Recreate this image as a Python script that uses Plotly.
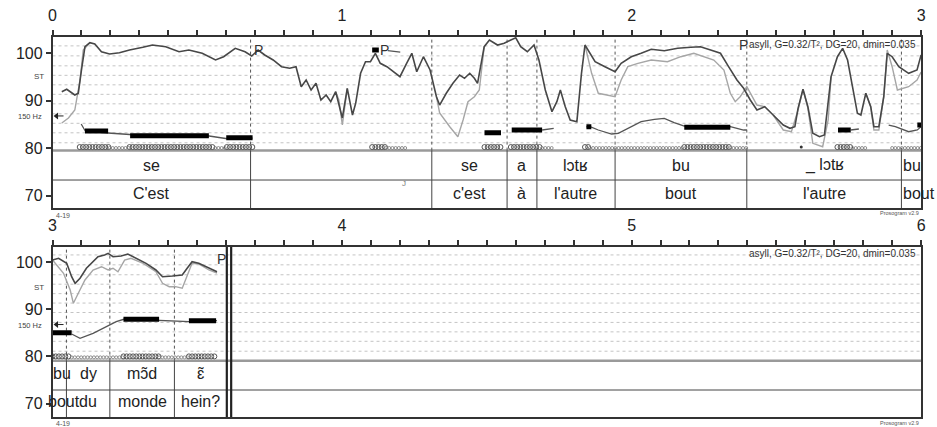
import numpy as np
import plotly.graph_objects as go

FONT = "Liberation Sans, Arial, sans-serif"

# ---------------- panel 1 (0-3 s) ----------------
# main F0 contour, semitones re 1 Hz
f0_t = [0.032, 0.049, 0.077, 0.089, 0.100, 0.112, 0.129, 0.146, 0.169, 0.197, 0.231, 0.266, 0.312, 0.345,
        0.391, 0.437, 0.471, 0.517, 0.563, 0.591, 0.631, 0.665, 0.688, 0.710, 0.733, 0.762, 0.791, 0.819,
        0.841, 0.859, 0.876, 0.893, 0.910, 0.927, 0.945, 0.961, 0.978, 0.995, 1.001, 1.018, 1.036, 1.047,
        1.064, 1.081, 1.098, 1.115, 1.132, 1.155, 1.178, 1.200, 1.223, 1.241, 1.258, 1.281, 1.304, 1.326,
        1.337, 1.360, 1.383, 1.406, 1.423, 1.441, 1.457, 1.468, 1.491, 1.509, 1.537, 1.560, 1.583, 1.600,
        1.617, 1.640, 1.663, 1.680, 1.702, 1.725, 1.742, 1.754, 1.771, 1.788, 1.811, 1.827, 1.839, 1.856,
        1.874, 1.908, 1.943, 1.964, 1.999, 2.033, 2.068, 2.113, 2.159, 2.205, 2.238, 2.273, 2.307, 2.335,
        2.364, 2.387, 2.410, 2.433, 2.460, 2.489, 2.524, 2.547, 2.564, 2.575, 2.592, 2.609, 2.626, 2.649,
        2.666, 2.689, 2.711, 2.729, 2.746, 2.763, 2.780, 2.792, 2.809, 2.826, 2.837, 2.854, 2.871, 2.883,
        2.900, 2.923, 2.957, 2.986, 3.0]
f0_st = [91.85, 92.36, 91.16, 91.52, 96.42, 101.33, 102.17, 101.89, 100.27, 99.79, 100.06, 100.63, 101.2,
         101.68, 101.33, 100.27, 100.63, 99.94, 98.53, 99.22, 100.99, 100.27, 99.37, 100.63, 99.58, 98.53,
         97.12, 96.78, 97.12, 92.91, 94.32, 92.21, 93.62, 90.11, 91.16, 89.75, 91.85, 88.0, 86.32, 92.57,
         86.95, 89.41, 95.73, 98.17, 98.17, 99.94, 97.83, 97.12, 96.06, 95.01, 97.83, 99.94, 96.06, 99.22,
         96.42, 90.8, 89.05, 91.52, 93.62, 95.37, 94.67, 95.73, 94.67, 93.62, 101.33, 102.74, 101.68, 102.04,
         102.74, 103.2, 101.33, 100.27, 101.68, 98.53, 92.21, 87.64, 89.75, 92.21, 88.69, 85.89, 85.54, 95.73,
         101.68, 99.94, 98.17, 97.12, 96.06, 97.83, 99.22, 99.94, 100.78, 100.48, 100.99, 101.2, 101.33,
         100.63, 99.94, 97.12, 94.32, 92.57, 90.11, 88.0, 88.69, 86.95, 84.84, 84.15, 84.48, 88.36, 92.36,
         88.69, 83.09, 82.38, 82.74, 95.01, 99.22, 100.99, 98.53, 92.91, 87.31, 86.95, 91.52, 88.69, 84.48,
         84.48, 90.8, 99.94, 99.22, 97.12, 95.73, 96.42, 99.6]

# secondary contour where it departs from the main one (None = break)
f0b_t = [0.032, 0.055, 0.077, 0.095, 0.106, 0.129, None,
         0.978, 0.989, 1.001, 1.018, None,
         1.326, 1.337, 1.372, 1.400, 1.418, 1.435, 1.457, 1.474, 1.491, None,
         1.839, 1.862, 1.885, 1.919, 1.943, 1.964, 1.987, 2.022, 2.068, 2.124, 2.170, 2.215, 2.250, 2.284,
         2.319, 2.341, 2.358, 2.375, 2.398, 2.433, 2.460, None,
         2.489, 2.524, 2.552, 2.575, 2.592, 2.609, 2.626, 2.660, 2.679, 2.689, None,
         2.809, 2.826, 2.837, 2.854, 2.871, 2.883, 2.900, 2.918, 2.957, 2.986, 3.0]
f0b_st = [85.26, 86.32, 88.0, 94.32, 100.63, 102.17, None,
          91.85, 90.11, 84.84, 92.57, None,
          90.8, 87.37, 84.48, 82.38, 85.89, 89.75, 90.8, 92.21, 101.33, None,
          101.68, 95.73, 91.52, 91.16, 90.8, 94.32, 97.12, 97.83, 98.53, 98.17, 99.22, 99.94, 99.22, 98.53,
          96.42, 91.52, 89.75, 90.8, 92.91, 89.05, 88.69, None,
          86.95, 83.79, 83.43, 88.0, 92.36, 88.4, 80.99, 80.27, 85.9, 95.01, None,
          91.52, 88.69, 83.79, 83.79, 90.8, 100.63, 97.12, 92.21, 92.91, 94.3, 96.0]

# stylised pitch (thin glide line)
sty_t = [0.099, 0.113, 0.191, 0.267, 0.541, 0.598, 0.691, None,
         1.158, 1.201, None,
         1.691, 1.731, None,
         1.844, 1.861, 1.885, 1.931, 1.954, 1.988, 2.033, 2.079, 2.113, 2.147, 2.182, 2.341, 2.387, 2.398, None,
         2.757, 2.785, None,
         2.888, 2.911, 2.957, 2.987, 3.0]
sty_st = [85.05, 83.58, 83.16, 82.84, 82.53, 82.0, 82.1, None,
          100.5, 100.2, None,
          83.79, 84.15, None,
          84.48, 84.4, 83.79, 82.95, 83.1, 84.15, 85.54, 86.04, 86.25, 85.33, 84.63, 84.48, 83.79, 83.79, None,
          83.79, 84.0, None,
          84.84, 84.48, 83.43, 83.79, 84.5]

# level tones on nuclei (thick bars)
bar_t0 = [0.112, 0.268, 0.600, 1.104, 1.492, 1.586, 1.844, 2.182, 2.713, 2.987]
bar_t1 = [0.192, 0.540, 0.691, 1.127, 1.549, 1.691, 1.861, 2.341, 2.757, 3.0]
bar_st = [83.58, 82.59, 82.17, 100.63, 83.22, 83.79, 84.48, 84.36, 83.79, 84.84]

# nucleus / voicing band spans
nuc_spans = [(0.094, 0.197), (0.266, 0.562), (0.602, 0.693), (1.104, 1.152), (1.492, 1.549),
             (1.583, 1.691), (1.839, 1.856), (2.182, 2.341), (2.711, 2.763)]
voi_spans = [(0.197, 0.266), (0.562, 0.602), (1.152, 1.224), (1.691, 1.725), (1.856, 2.182),
             (2.341, 2.398), (2.763, 2.809), (2.900, 3.0)]

# tiers
bounds1 = [0.0, 0.684, 1.310, 1.570, 1.673, 1.943, 2.398, 2.932, 3.0]
syll1 = ["se", "", "se", "a", "lɔtʁ", "bu", "_ lɔtʁ", "bu"]
words1 = ["C'est", "", "c'est", "à", "l'autre", "bout", "l'autre", "bout"]
pause1_t = [0.712, 1.146, 2.385]
pause1_st = [100.6, 100.6, 101.6]

# ---------------- panel 2 (3-6 s) ----------------
f0_t2 = [3.0, 3.021, 3.049, 3.066, 3.078, 3.095, 3.117, 3.140, 3.157, 3.180, 3.192, 3.209, 3.237, 3.260,
         3.288, 3.323, 3.357, 3.380, 3.414, 3.448, 3.465, 3.482, 3.505, 3.540, 3.568]
f0_st2 = [100.42, 100.78, 99.72, 96.89, 95.49, 96.55, 98.67, 100.06, 101.12, 101.48, 101.84, 101.12,
          101.27, 101.69, 100.78, 99.72, 98.31, 96.89, 97.03, 97.25, 98.67, 100.06, 99.72, 98.67, 97.94]
f0b_t2 = [3.0, 3.038, 3.061, 3.072, 3.089, 3.112, 3.140, 3.169, 3.192, 3.209, 3.226, 3.249, 3.271, 3.311,
          3.357, 3.380, 3.403, 3.425, 3.448, 3.465, 3.482, 3.505, 3.540, 3.568]
f0b_st2 = [100.42, 97.61, 94.07, 91.25, 93.37, 96.19, 98.31, 99.0, 98.31, 98.67, 97.94, 100.42, 100.78,
           99.79, 97.94, 95.49, 94.77, 94.77, 94.43, 96.89, 99.72, 99.58, 98.31, 97.67]
sty_t2 = [3.066, 3.095, 3.140, 3.186, 3.220, 3.249, 3.368, 3.471, 3.568]
sty_st2 = [84.75, 83.83, 84.89, 86.29, 87.35, 87.92, 87.56, 87.35, 87.56]
bar_t0_2 = [3.0, 3.245, 3.471]
bar_t1_2 = [3.066, 3.368, 3.565]
bar_st2 = [85.02, 87.86, 87.56]
nuc_spans2 = [(3.0, 3.066), (3.245, 3.368), (3.471, 3.565)]
voi_spans2 = [(3.066, 3.245), (3.368, 3.471)]
bounds2 = [3.0, 3.048, 3.198, 3.421, 3.602]
syll2 = ["bu", "dy", "mɔ̃d", "ɛ̃"]
words2 = ["bout", "du", "monde", "hein?"]
syll2_pos = [3.031, 3.123, 3.31, 3.512]
words2_pos = [3.041, 3.123, 3.31, 3.512]
signal_end = 3.602

grid_st = [81.1, 83.2, 85.2, 87.2, 89.3, 91.3, 93.3, 95.3, 97.3, 99.4, 101.5]
ref_150hz = 86.75  # 150 Hz in semitones re 1 Hz

# ---------------- geometry ----------------
W, H = 937, 427
xdom = [49 / W, 926 / W]
ydom1 = [1 - 208 / H, 1 - 37 / H]
ydom2 = [1 - 417 / H, 1 - 247 / H]
yr1 = [67.37, 103.37]
yr2 = [67.16, 103.18]
tier1 = (79.45, 73.26)
tier2 = (79.1, 72.88)
band1, band2 = 80.2, 80.0

fig = go.Figure()
shapes = []
annos = []


def line_trace(xs, ys, xa, ya, color, width):
    fig.add_trace(go.Scatter(x=xs, y=ys, xaxis=xa, yaxis=ya, mode="lines",
                             line=dict(color=color, width=width), hoverinfo="skip",
                             showlegend=False, connectgaps=False))


def bars_trace(t0, t1, st, xa, ya):
    xs, ys = [], []
    for a, b, s in zip(t0, t1, st):
        xs += [a, b, None]
        ys += [s, s, None]
    line_trace(xs, ys, xa, ya, "#000000", 5)


def band_trace(nuc, voi, level, xa, ya):
    xs = []
    for a, b in nuc:
        xs += list(np.arange(a, b, 0.011))
    fig.add_trace(go.Scatter(x=xs, y=[level] * len(xs), xaxis=xa, yaxis=ya, mode="markers",
                             marker=dict(symbol="circle-open", size=5, color="#555",
                                         line=dict(width=1, color="#555")),
                             hoverinfo="skip", showlegend=False))
    xs = []
    for a, b in voi:
        xs += list(np.arange(a, b, 0.011))
    fig.add_trace(go.Scatter(x=xs, y=[level - 0.2] * len(xs), xaxis=xa, yaxis=ya, mode="markers",
                             marker=dict(symbol="circle-open", size=3, color="#777",
                                         line=dict(width=0.8, color="#777")),
                             hoverinfo="skip", showlegend=False))


def panel_frame(yref, dom_ref, tier):
    for g in grid_st:
        shapes.append(dict(type="line", xref=dom_ref, yref=yref, x0=0, x1=1, y0=g, y1=g,
                           line=dict(color="#c4c4c4", width=1, dash="dot"), layer="below"))
    shapes.append(dict(type="line", xref=dom_ref, yref=yref, x0=0, x1=1, y0=tier[0], y1=tier[0],
                       line=dict(color="#9a9a9a", width=2.5), layer="below"))
    shapes.append(dict(type="line", xref=dom_ref, yref=yref, x0=0, x1=1, y0=tier[1], y1=tier[1],
                       line=dict(color="#444", width=1), layer="below"))


def boundaries(bs, yr, tier, xref, yref):
    for b in bs:
        shapes.append(dict(type="line", xref=xref, yref=yref, x0=b, x1=b, y0=tier[0], y1=yr[1],
                           line=dict(color="#555", width=1, dash="dot"), layer="below"))
        shapes.append(dict(type="line", xref=xref, yref=yref, x0=b, x1=b, y0=yr[0], y1=tier[0],
                           line=dict(color="#444", width=1), layer="below"))


def text(x, y, s, xref, yref, size, color="#222", xanchor="center"):
    annos.append(dict(x=x, y=y, xref=xref, yref=yref, text=s, showarrow=False,
                      font=dict(family=FONT, size=size, color=color), xanchor=xanchor,
                      yanchor="middle"))


# panel 1
panel_frame("y", "x domain", tier1)
boundaries(bounds1[1:-1], yr1, tier1, "x", "y")
line_trace(f0b_t, f0b_st, "x", "y", "#a6a6a6", 1.4)
line_trace(f0_t, f0_st, "x", "y", "#474747", 1.6)
line_trace(sty_t, sty_st, "x", "y", "#555555", 1.3)
bars_trace(bar_t0, bar_t1, bar_st, "x", "y")
band_trace(nuc_spans, voi_spans, band1, "x", "y")
fig.add_trace(go.Scatter(x=[2.586], y=[band1], xaxis="x", yaxis="y", mode="markers",
                         marker=dict(size=3, color="#333"), hoverinfo="skip", showlegend=False))
for i, (s, w) in enumerate(zip(syll1, words1)):
    a, b = bounds1[i], bounds1[i + 1]
    if i == len(syll1) - 1:
        text(a, 76.42, s, "x", "y", 16, xanchor="left")
        text(a, 70.32, w, "x", "y", 16, xanchor="left")
    else:
        text((a + b) / 2, 76.42, s, "x", "y", 16)
        text((a + b) / 2, 70.32, w, "x", "y", 16)
text(1.213, 72.6, "J", "x", "y", 8, color="#777")
for t, s in zip(pause1_t, pause1_st):
    text(t, s, "P", "x", "y", 14, color="#333")

# panel 2
panel_frame("y2", "x2 domain", tier2)
boundaries(bounds2[1:-1], yr2, tier2, "x2", "y2")
for e in (signal_end, signal_end + 0.015):
    shapes.append(dict(type="line", xref="x2", yref="y2", x0=e, x1=e, y0=yr2[0], y1=yr2[1],
                       line=dict(color="#222", width=2.2)))
line_trace(f0b_t2, f0b_st2, "x2", "y2", "#a6a6a6", 1.4)
line_trace(f0_t2, f0_st2, "x2", "y2", "#474747", 1.6)
line_trace(sty_t2, sty_st2, "x2", "y2", "#555555", 1.3)
bars_trace(bar_t0_2, bar_t1_2, bar_st2, "x2", "y2")
band_trace(nuc_spans2, voi_spans2, band2, "x2", "y2")
for s, w, ps, pw in zip(syll2, words2, syll2_pos, words2_pos):
    text(ps, 76.48, s, "x2", "y2", 16)
    text(pw, 70.34, w, "x2", "y2", 16)
text(3.585, 100.6, "P", "x2", "y2", 14, color="#333")

# 150 Hz reference arrows
for xa, ya in (("x", "y"), ("x2", "y2")):
    t0 = 0.014 if xa == "x" else 3.014
    fig.add_trace(go.Scatter(x=[t0, t0 + 0.024], y=[ref_150hz, ref_150hz], xaxis=xa, yaxis=ya,
                             mode="lines", line=dict(color="#222", width=1),
                             hoverinfo="skip", showlegend=False))
    fig.add_trace(go.Scatter(x=[t0], y=[ref_150hz], xaxis=xa, yaxis=ya, mode="markers",
                             marker=dict(symbol="triangle-left", size=6, color="#222"),
                             hoverinfo="skip", showlegend=False))

# side and corner labels
for y_st, y_hz in ((77, 116), (287, 325)):
    text(35 / W, 1 - y_st / H, "ST", "paper", "paper", 8, color="#444")
    text(26 / W, 1 - y_hz / H, "150 Hz", "paper", "paper", 7.5, color="#444")
for y in (215, 423):
    text(50 / W, 1 - y / H, "4-19", "paper", "paper", 7, color="#555", xanchor="left")
for y in (213, 423):
    text(926 / W, 1 - y / H, "Prosogram v2.9", "paper", "paper", 5.5, color="#555", xanchor="right")
param = "asyll, G=0.32/T², DG=20, dmin=0.035"
text(0.996, 101.7, param, "x domain", "y", 10, color="#333", xanchor="right")
text(0.996, 101.9, param, "x2 domain", "y2", 10, color="#333", xanchor="right")


def xaxis_cfg(lo, anchor):
    vals = [round(lo + 0.1 * i, 1) for i in range(31)]
    txt = [str(int(round(v))) if i % 10 == 0 else "" for i, v in enumerate(vals)]
    return dict(domain=xdom, range=[lo, lo + 3], side="top", anchor=anchor, tickmode="array",
                tickvals=vals, ticktext=txt, ticks="outside", ticklen=5, tickwidth=1.5,
                tickcolor="#333", showline=True, linecolor="#333", linewidth=2, mirror=True,
                showgrid=False, zeroline=False, ticklabelstandoff=3,
                tickfont=dict(family=FONT, size=16, color="#222"))


def yaxis_cfg(dom, rng, anchor):
    return dict(domain=dom, range=rng, anchor=anchor, tickmode="array", tickvals=[70, 80, 90, 100],
                ticks="outside", ticklen=5, tickwidth=1.5, tickcolor="#333", showline=True,
                linecolor="#333", linewidth=1.5, mirror=True, showgrid=False, zeroline=False,
                tickfont=dict(family=FONT, size=16, color="#222"))


fig.update_layout(
    width=W, height=H, margin=dict(l=0, r=0, t=0, b=0),
    paper_bgcolor="white", plot_bgcolor="white", showlegend=False,
    xaxis=xaxis_cfg(0, "y"), yaxis=yaxis_cfg(ydom1, yr1, "x"),
    xaxis2=xaxis_cfg(3, "y2"), yaxis2=yaxis_cfg(ydom2, yr2, "x2"),
    shapes=shapes, annotations=annos,
    font=dict(family=FONT),
)

fig.write_html("out.html")
